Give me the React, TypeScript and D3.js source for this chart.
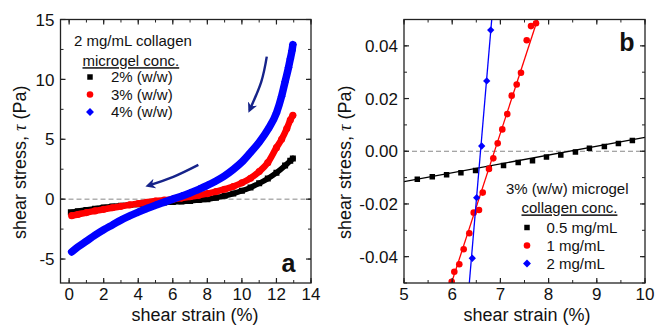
import React from 'react';
import * as d3 from 'd3';

const W = 657;
const H = 325;
const FONT = "'Liberation Sans', Arial, Helvetica, sans-serif";

// ---------- Panel a: 2 mg/mL collagen, microgel conc. ----------
const aBlackX = [0.1, 0.5, 1, 1.5, 2, 2.5, 3, 3.5, 4, 4.5, 5, 5.5, 6, 6.5, 7, 7.5, 8, 8.5, 9, 9.5, 10, 10.5, 11, 11.5, 12, 12.5, 12.8, 12.95];
const aBlackY = [-1.1, -1.0, -0.9, -0.8, -0.7, -0.62, -0.55, -0.48, -0.42, -0.37, -0.32, -0.28, -0.24, -0.2, -0.15, -0.08, 0.0, 0.12, 0.28, 0.47, 0.7, 0.98, 1.32, 1.72, 2.2, 2.8, 3.2, 3.4];

const aRedX = [0.15, 0.5, 1, 1.5, 2, 2.5, 3, 3.5, 4, 4.5, 5, 5.5, 6, 6.5, 7, 7.5, 8, 8.5, 9, 9.5, 10, 10.5, 11, 11.5, 12, 12.3, 12.6, 12.8, 12.95];
const aRedY = [-1.38, -1.28, -1.12, -0.98, -0.85, -0.72, -0.6, -0.48, -0.37, -0.26, -0.16, -0.08, 0.0, 0.09, 0.2, 0.32, 0.46, 0.63, 0.83, 1.06, 1.36, 1.75, 2.3, 3.05, 4.3, 5.0, 5.9, 6.6, 7.0];

const aBlueX = [0.15, 0.5, 1, 1.5, 2, 2.5, 3, 3.5, 4, 4.5, 5, 5.5, 6, 6.5, 7, 7.5, 8, 8.5, 9, 9.5, 10, 10.5, 11, 11.5, 12, 12.3, 12.5, 12.7, 12.8, 12.9, 12.95];
const aBlueY = [-4.4, -4.0, -3.5, -3.0, -2.55, -2.15, -1.75, -1.4, -1.08, -0.78, -0.5, -0.25, 0.0, 0.25, 0.52, 0.82, 1.15, 1.52, 1.95, 2.48, 3.1, 3.9, 4.75, 5.8, 7.2, 8.6, 9.8, 11.0, 11.7, 12.4, 12.9];

const aLegendTitle = '2 mg/mL collagen';
const aLegendSub = 'microgel conc.';
const aLegendLabels = ['2% (w/w)', '3% (w/w)', '4% (w/w)'];

// annotation arrows (data coordinates)
const arrow1 = [[11.44, 11.9], [11.12, 9.8], [10.45, 7.45]];
const arrow2 = [[7.48, 2.86], [6.03, 1.86], [4.58, 1.13]];

const aXTicks = [0, 2, 4, 6, 8, 10, 12, 14];
const aXMinor = d3.range(0, 14.01, 1);
const aYTicks = [-5, 0, 5, 10, 15];
const aYMinor = [-5, -2.5, 0, 2.5, 5, 7.5, 10, 12.5, 15];

// ---------- Panel b: 3% (w/w) microgel, collagen conc. ----------
const bBlackX = [5.276, 5.587, 5.884, 6.181, 6.485, 6.768, 7.065, 7.369, 7.666, 7.956, 8.253, 8.557, 8.847, 9.157, 9.448, 9.738];
const bBlackY = [-0.0106, -0.0097, -0.0089, -0.0082, -0.0073, -0.0065, -0.0054, -0.0043, -0.0036, -0.0022, -0.0014, -0.0003, 0.0011, 0.0018, 0.0029, 0.0041];

const bRedX = [5.99, 6.044, 6.147, 6.238, 6.355, 6.446, 6.556, 6.633, 6.763, 6.853, 6.944, 7.039, 7.143, 7.234, 7.338, 7.427, 7.546, 7.635, 7.739];
const bRedY = [-0.0495, -0.0457, -0.0429, -0.0372, -0.0311, -0.0233, -0.0223, -0.0157, -0.0067, -0.0027, 0.003, 0.0083, 0.0141, 0.0211, 0.0253, 0.0298, 0.0421, 0.0475, 0.0486];

const bBlueX = [6.417, 6.508, 6.612, 6.716, 6.799];
const bBlueY = [-0.0406, -0.0176, 0.002, 0.0267, 0.046];

const bFitBlack = [[5, -0.01155], [10, 0.0053]];
const bFitRed = [[5.985, -0.05], [7.77, 0.05]];
const bFitBlue = [[6.355, -0.05], [6.82, 0.05]];

const bLegendTitle = '3% (w/w) microgel';
const bLegendSub = 'collagen conc.';
const bLegendLabels = ['0.5 mg/mL', '1 mg/mL', '2 mg/mL'];

const bXTicks = [5, 6, 7, 8, 9, 10];
const bXMinor = d3.range(5, 10.01, 0.5);
const bYTicks = [-0.04, -0.02, 0, 0.02, 0.04];
const bYMinor = d3.range(-0.05, 0.0501, 0.01);

const xLabel = 'shear strain (%)';

const COLORS = ['#000000', '#ff0000', '#0000ff'];
const ARROW = '#16238a';

// scales
const xA = d3.scaleLinear().domain([-0.5, 14]).range([60.5, 311]);
const yA = d3.scaleLinear().domain([-7, 15]).range([283, 19.5]);
const xB = d3.scaleLinear().domain([5, 10]).range([404, 645]);
const yB = d3.scaleLinear().domain([-0.05, 0.05]).range([283, 19.5]);

const symbolTypes = [d3.symbolSquare, d3.symbolCircle, (d3 as any).symbolDiamond2 || d3.symbolDiamond];

function sym(i: number, size: number) {
  return d3.symbol().type(symbolTypes[i]).size(size)() as string;
}

function Panel(props: any) {
  const { id, x, y, xTicks, xMinor, yTicks, yMinor, xFmt, yFmt, children, titleX, titleYX } = props;
  const [x0, x1] = x.range();
  const [yb, yt] = y.range();
  const maj = 5;
  const min = 3;
  const stroke = '#222';
  return (
    <g>
      <defs>
        <clipPath id={id}>
          <rect x={x0} y={yt} width={x1 - x0} height={yb - yt} />
        </clipPath>
      </defs>
      <line x1={x0} x2={x1} y1={y(0)} y2={y(0)} stroke="#888" strokeWidth={1} strokeDasharray="5,3" />
      <g clipPath={`url(#${id})`}>{children}</g>
      {xMinor.map((v: number, i: number) => (
        <g key={'xm' + i}>
          <line x1={x(v)} x2={x(v)} y1={yb} y2={yb - min} stroke={stroke} strokeWidth={1} />
          <line x1={x(v)} x2={x(v)} y1={yt} y2={yt + min} stroke={stroke} strokeWidth={1} />
        </g>
      ))}
      {yMinor.map((v: number, i: number) => (
        <g key={'ym' + i}>
          <line x1={x0} x2={x0 + min} y1={y(v)} y2={y(v)} stroke={stroke} strokeWidth={1} />
          <line x1={x1} x2={x1 - min} y1={y(v)} y2={y(v)} stroke={stroke} strokeWidth={1} />
        </g>
      ))}
      {xTicks.map((v: number, i: number) => (
        <g key={'xt' + i}>
          <line x1={x(v)} x2={x(v)} y1={yb} y2={yb - maj} stroke={stroke} strokeWidth={1.2} />
          <line x1={x(v)} x2={x(v)} y1={yt} y2={yt + maj} stroke={stroke} strokeWidth={1.2} />
          <text x={x(v)} y={300} textAnchor="middle" fontSize={17} fontFamily={FONT} fill="#111">
            {xFmt(v)}
          </text>
        </g>
      ))}
      {yTicks.map((v: number, i: number) => (
        <g key={'yt' + i}>
          <line x1={x0} x2={x0 + maj} y1={y(v)} y2={y(v)} stroke={stroke} strokeWidth={1.2} />
          <line x1={x1} x2={x1 - maj} y1={y(v)} y2={y(v)} stroke={stroke} strokeWidth={1.2} />
          <text x={x0 - 6} y={y(v)} dy="0.36em" textAnchor="end" fontSize={17} fontFamily={FONT} fill="#111">
            {yFmt(v)}
          </text>
        </g>
      ))}
      <rect x={x0} y={yt} width={x1 - x0} height={yb - yt} fill="none" stroke={stroke} strokeWidth={1.3} />
      <text x={titleX} y={320.5} textAnchor="middle" fontSize={18} fontFamily={FONT} fill="#111">
        {xLabel}
      </text>
      <text
        transform={`translate(${titleYX},${(yb + yt) / 2 + 11}) rotate(-90)`}
        textAnchor="middle"
        fontSize={18}
        fontFamily={FONT}
        fill="#111"
      >
        shear stress,{' '}
        <tspan fontFamily="'Liberation Serif', 'DejaVu Serif', serif" fontStyle="italic">
          τ
        </tspan>{' '}
        (Pa)
      </text>
    </g>
  );
}

function Legend(props: any) {
  const { title, sub, labels, tx, sx, mx, lx, ys, sizes } = props;
  return (
    <g fontFamily={FONT} fontSize={15} fill="#111">
      <text x={tx} y={ys[0] + 5.4}>{title}</text>
      <text x={sx} y={ys[1] + 5.4} textDecoration="underline">
        {sub}
      </text>
      {labels.map((l: string, i: number) => (
        <g key={l}>
          <path d={sym(i, sizes[i])} transform={`translate(${mx},${ys[i + 2]})`} fill={COLORS[i]} />
          <text x={lx} y={ys[i + 2] + 5.4}>{l}</text>
        </g>
      ))}
    </g>
  );
}

export default function App() {
  const lineA = (xs: number[], ys: number[]) =>
    d3
      .line<number>()
      .x((_, i) => xA(xs[i]))
      .y((_, i) => yA(ys[i]))
      .curve(d3.curveMonotoneX)(xs) as string;

  const aSeries = [
    { xs: aBlackX, ys: aBlackY, w: 5.5, size: 36 },
    { xs: aRedX, ys: aRedY, w: 6.5, size: 40 },
    { xs: aBlueX, ys: aBlueY, w: 7.5, size: 42 },
  ];
  const bSeries = [
    { xs: bBlackX, ys: bBlackY, fit: bFitBlack, size: 30 },
    { xs: bRedX, ys: bRedY, fit: bFitRed, size: 34 },
    { xs: bBlueX, ys: bBlueY, fit: bFitBlue, size: 34 },
  ];

  const arrowPath = (pts: number[][]) =>
    d3
      .line<number[]>()
      .x((d) => xA(d[0]))
      .y((d) => yA(d[1]))
      .curve(d3.curveNatural)(pts) as string;

  return (
    <svg
      width={W}
      height={H}
      viewBox={`0 0 ${W} ${H}`}
      style={{ position: 'absolute', left: 0, top: 0, background: '#fff' }}
    >
      <defs>
        <marker
          id="ah"
          viewBox="0 0 10 10"
          refX="7"
          refY="5"
          markerWidth="10"
          markerHeight="10"
          markerUnits="userSpaceOnUse"
          orient="auto"
        >
          <path d="M0,0 L10,5 L0,10 L3,5 z" fill={ARROW} />
        </marker>
      </defs>
      <rect x={0} y={0} width={W} height={H} fill="#fff" />

      <Panel
        id="clipA"
        x={xA}
        y={yA}
        xTicks={aXTicks}
        xMinor={aXMinor}
        yTicks={aYTicks}
        yMinor={aYMinor}
        xFmt={(v: number) => String(v)}
        yFmt={(v: number) => String(v)}
        titleX={195}
        titleYX={26}
      >
        {aSeries.map((s, i) => (
          <g key={i}>
            <path d={lineA(s.xs, s.ys)} fill="none" stroke={COLORS[i]} strokeWidth={s.w} strokeLinecap="round" />
            {s.xs.map((v, j) => (
              <path key={j} d={sym(i, s.size)} transform={`translate(${xA(v)},${yA(s.ys[j])})`} fill={COLORS[i]} />
            ))}
          </g>
        ))}
      </Panel>

      <path d={arrowPath(arrow1)} fill="none" stroke={ARROW} strokeWidth={2.4} markerEnd="url(#ah)" />
      <path d={arrowPath(arrow2)} fill="none" stroke={ARROW} strokeWidth={2.4} markerEnd="url(#ah)" />

      <Legend
        title={aLegendTitle}
        sub={aLegendSub}
        labels={aLegendLabels}
        tx={74}
        sx={82.5}
        mx={90}
        lx={111}
        ys={[40.3, 60.8, 77, 94.5, 112]}
        sizes={[30, 34, 40]}
      />
      <text x={288.5} y={272} textAnchor="middle" fontSize={25} fontWeight="bold" fontFamily={FONT} fill="#111">
        a
      </text>

      <Panel
        id="clipB"
        x={xB}
        y={yB}
        xTicks={bXTicks}
        xMinor={bXMinor}
        yTicks={bYTicks}
        yMinor={bYMinor}
        xFmt={(v: number) => String(v)}
        yFmt={(v: number) => d3.format('.2f')(v).replace('−', '-')}
        titleX={527}
        titleYX={351}
      >
        {bSeries.map((s, i) => (
          <g key={i}>
            <line
              x1={xB(s.fit[0][0])}
              y1={yB(s.fit[0][1])}
              x2={xB(s.fit[1][0])}
              y2={yB(s.fit[1][1])}
              stroke={COLORS[i]}
              strokeWidth={1.3}
            />
            {s.xs.map((v, j) => (
              <path key={j} d={sym(i, s.size)} transform={`translate(${xB(v)},${yB(s.ys[j])})`} fill={COLORS[i]} />
            ))}
          </g>
        ))}
      </Panel>

      <Legend
        title={bLegendTitle}
        sub={bLegendSub}
        labels={bLegendLabels}
        tx={506}
        sx={521.5}
        mx={527}
        lx={546.5}
        ys={[188.5, 208, 227.5, 245.5, 263.5]}
        sizes={[30, 34, 40]}
      />
      <text x={627} y={51} textAnchor="middle" fontSize={25} fontWeight="bold" fontFamily={FONT} fill="#111">
        b
      </text>
    </svg>
  );
}
